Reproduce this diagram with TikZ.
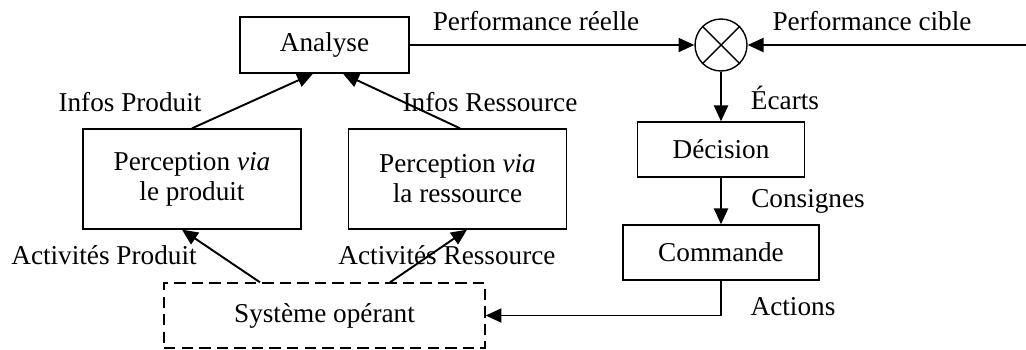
\documentclass[tikz,border=0pt]{standalone}
\usepackage{fontspec}
\setmainfont{Liberation Serif}
\usetikzlibrary{arrows.meta}
\tikzset{
  bloc/.style={draw, line width=0.8pt, align=center, inner sep=0pt},
  blocpointille/.style={bloc, dash pattern=on 6.5pt off 3.5pt},
  fleche/.style={-{Triangle[length=9pt,width=8pt]}, line width=1.1pt},
  etiq/.style={inner sep=0pt},
}
\begin{document}
\begin{tikzpicture}[x=0.02cm, y=-0.02cm, font=\fontsize{15.5}{17}\selectfont]
  \useasboundingbox (0,0) rectangle (1026,349);
  % blocs
  \node[bloc, minimum width=3.38cm, minimum height=1.12cm] (ana) at (324.5,45) {Analyse};
  \node[bloc, minimum width=4.36cm, minimum height=2.0cm] (prod) at (192,179) {Perception \textit{via}\\le produit};
  \node[bloc, minimum width=4.36cm, minimum height=2.0cm] (res) at (457.5,179) {Perception \textit{via}\\la ressource};
  \node[draw, circle, line width=0.8pt, minimum size=1.04cm, inner sep=0pt] (som) at (721,45) {};
  \draw[line width=0.8pt] (som.north west) -- (som.south east) (som.north east) -- (som.south west);
  \node[bloc, minimum width=3.34cm, minimum height=1.1cm] (dec) at (721,149.5) {Décision};
  \node[bloc, minimum width=3.92cm, minimum height=1.1cm] (cmd) at (721,252.5) {Commande};
  \node[blocpointille, minimum width=6.42cm, minimum height=1.3cm] (sys) at (324.5,315.5) {Système opérant};
  \coordinate (cible) at (1026,45);
  % liaisons
  \draw[fleche] (ana.east) -- (som.west);
  \draw[fleche] (cible) -- (som.east);
  \draw[fleche] (som.south) -- (dec.north);
  \draw[fleche] (dec.south) -- (cmd.north);
  \draw[fleche] (cmd.south) |- (sys.east);
  \draw[fleche] (prod.north) -- ([xshift=-0.23cm]ana.south);
  \draw[fleche] ([xshift=0.05cm]res.north) -- ([xshift=0.37cm]ana.south);
  \draw[fleche] ([xshift=-1.29cm]sys.north) -- ([xshift=-0.2cm]prod.south);
  \draw[fleche] ([xshift=1.31cm]sys.north) -- ([xshift=0.19cm]res.south);
  % etiquettes
  \node[etiq] (lperf) at (536,21) {Performance réelle};
  \node[etiq] (lcible) at (872,21) {Performance cible};
  \node[etiq] (lecart) at (785,98) {Écarts};
  \node[etiq] (lcons) at (808,201) {Consignes};
  \node[etiq] (lact) at (793,307) {Actions};
  \node[etiq] (linfp) at (130,102) {Infos Produit};
  \node[etiq] (linfr) at (490,102) {Infos Ressource};
  \node[etiq] (lactp) at (104,255) {Activités Produit};
  \node[etiq] (lactr) at (447,255) {Activités Ressource};
\end{tikzpicture}
\end{document}
